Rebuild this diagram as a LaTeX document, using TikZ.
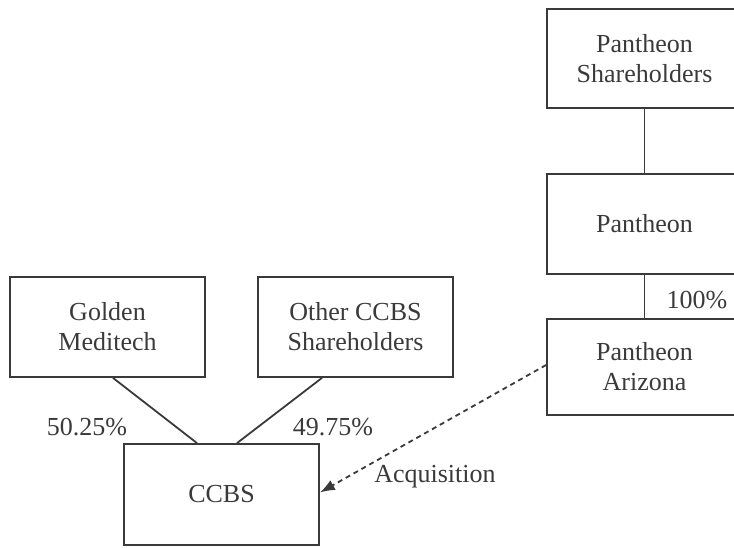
\documentclass[tikz,border=0pt]{standalone}
\usepackage{fontspec}
\setmainfont{Liberation Serif}
\usepackage{tikz}
\usetikzlibrary{arrows.meta}
\definecolor{ink}{HTML}{3A3A3A}
\tikzset{entity/.style={draw=ink, line width=1.8pt, rectangle, align=center, text=ink, minimum width=195pt, minimum height=100pt, font=\fontsize{26}{30}\selectfont}}
\tikzset{share/.style={text=ink, font=\fontsize{26}{30}\selectfont}}
\tikzset{link/.style={draw=ink, line width=1.8pt}}

\begin{document}
\begin{tikzpicture}[x=1pt, y=-1pt]
    \useasboundingbox (0,0) rectangle (734,548);
    \clip (0,0) rectangle (734,548);
    \node[entity] at (107.5,327) (golden) {Golden\\Meditech};
    \node[entity] at (355.5,327) (other) {Other CCBS\\Shareholders};
    \node[entity, minimum height=101pt] at (221.5,494.5) (ccbs) {CCBS};
    \node[entity, minimum height=99pt] at (644.5,58.5) (pshare) {Pantheon\\Shareholders};
    \node[entity] at (644.5,224) (pantheon) {Pantheon};
    \node[entity, minimum height=96pt] at (644.5,367) (arizona) {Pantheon\\Arizona};
    \node[share] at (87,427) (gpct) {50.25\%};
    \node[share] at (333,427) (opct) {49.75\%};
    \node[share] at (697,300) (apct) {100\%};
    \node[share] at (435,477) (acq) {Acquisition};
    \draw [link] ([xshift=5.5pt]golden.south) -- ([xshift=-24.5pt]ccbs.north);
    \draw [link] ([xshift=-33.5pt]other.south) -- ([xshift=15.5pt]ccbs.north);
    \draw [link] (pshare) -- (pantheon);
    \draw [link] (pantheon) -- (arizona);
    \draw [link, -{Latex[length=15pt,width=11pt]}, dash pattern=on 5pt off 4pt] ([yshift=2pt]arizona.west) -- ([yshift=2pt]ccbs.east);
\end{tikzpicture}
\end{document}
